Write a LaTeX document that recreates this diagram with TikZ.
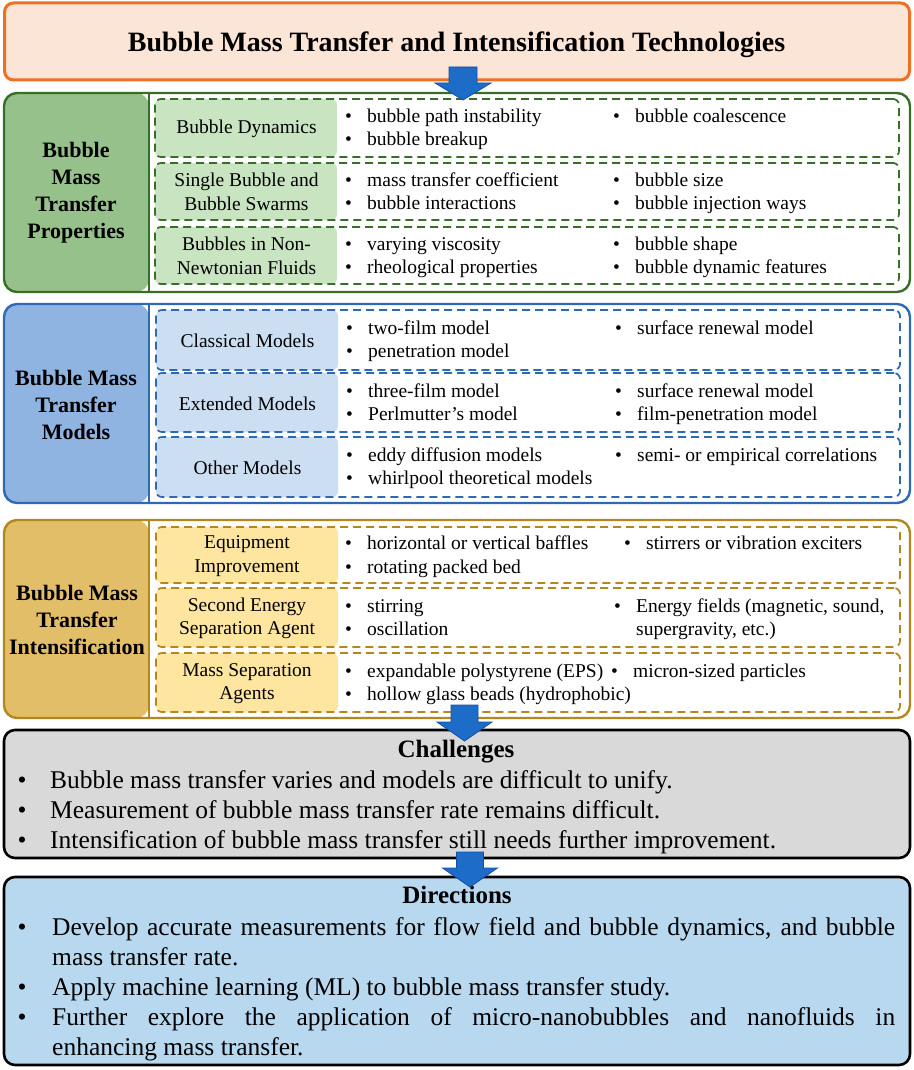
\documentclass[tikz,border=0pt]{standalone}
\usepackage{fontspec}
\setmainfont{Liberation Serif}

\definecolor{titleline}{RGB}{237,112,36}
\definecolor{titlefill}{RGB}{251,229,214}
\definecolor{gline}{RGB}{56,110,40}
\definecolor{gdark}{RGB}{151,193,139}
\definecolor{glight}{RGB}{200,228,192}
\definecolor{bline}{RGB}{46,105,180}
\definecolor{bdark}{RGB}{143,180,226}
\definecolor{blight}{RGB}{204,222,242}
\definecolor{yline}{RGB}{180,135,30}
\definecolor{ydark}{RGB}{226,190,104}
\definecolor{ylight}{RGB}{255,230,160}
\definecolor{chfill}{RGB}{217,217,217}
\definecolor{dirfill}{RGB}{184,216,240}
\definecolor{arrowblue}{RGB}{28,108,200}
\definecolor{arrowline}{RGB}{20,80,160}

\newcommand{\bul}{\makebox[22pt][l]{\textbullet}}

\tikzset{
	titlebox/.style={draw=titleline, fill=titlefill, line width=3pt, rounded corners=9pt, outer sep=0pt},
	titletxt/.style={anchor=base, inner sep=0pt, font=\bfseries\fontsize{28pt}{32pt}\selectfont},
	secbox/.style={draw=#1, fill=white, line width=2.4pt, rounded corners=13pt, minimum width=906pt, outer sep=0pt},
	leftfill/.style={path picture={\fill[#1] (path picture bounding box.north west) rectangle ([xshift=145pt]path picture bounding box.south west);}},
	subbox/.style={draw=#1, dash pattern=on 8pt off 5pt, line width=1.7pt, rounded corners=6pt, minimum width=744pt, outer sep=0pt},
	labelfill/.style={path picture={\fill[#1] (path picture bounding box.north west) rectangle ([xshift=182pt]path picture bounding box.south west);}},
	sectxt/.style={align=center, inner sep=0pt, font=\bfseries\fontsize{22pt}{27pt}\selectfont},
	sublabel/.style={align=center, inner sep=0pt, font=\fontsize{19.5pt}{23.5pt}\selectfont},
	item/.style={anchor=base west, inner sep=0pt, font=\fontsize{19.5pt}{23.5pt}\selectfont},
	endbox/.style={draw=black, line width=2.6pt, rounded corners=11pt, minimum width=906pt, outer sep=0pt},
	heading/.style={anchor=base, inner sep=0pt, font=\bfseries\fontsize{25pt}{30pt}\selectfont},
	bigitem/.style={anchor=base west, inner sep=0pt, font=\fontsize{25.5pt}{30pt}\selectfont},
	blockarrow/.style={fill=arrowblue, draw=arrowline, line width=0.8pt, line join=miter}
}

\begin{document}
\begin{tikzpicture}[x=1pt, y=-1pt]
	
	\useasboundingbox (0,0) rectangle (913,1070);
	
	% Title
	\node[titlebox, minimum width=905pt, minimum height=77pt] (title) at (457,41.5) {};
	\node[titletxt] (titleT) at (456.5,51.5) {Bubble Mass Transfer and Intensification Technologies};
	
	% Bubble mass transfer properties
	\node[secbox=gline, leftfill=gdark, minimum height=199pt] (props) at (457,192.5) {};
	\draw[gline, line width=1.2pt] ([xshift=145pt]props.north west) -- ([xshift=145pt]props.south west);
	\node[sectxt] (propsT) at (76,193) {Bubble\\Mass\\Transfer\\Properties};
	
	\node[subbox=gline, labelfill=glight, minimum height=58pt] (dyn) at (527,128) {};
	\node[sublabel] (dynL) at (246.5,129) {Bubble Dynamics};
	\node[item] (dyn1) at (345,123) {\bul bubble path instability};
	\node[item] (dyn2) at (613,123) {\bul bubble coalescence};
	\node[item] (dyn3) at (345,146) {\bul bubble breakup};
	
	\node[subbox=gline, labelfill=glight, minimum height=57pt] (swarm) at (527,191.5) {};
	\node[sublabel] (swarmL) at (246.5,192) {Single Bubble and\\Bubble Swarms};
	\node[item] (swarm1) at (345,186) {\bul mass transfer coefficient};
	\node[item] (swarm2) at (613,186) {\bul bubble size};
	\node[item] (swarm3) at (345,209) {\bul bubble interactions};
	\node[item] (swarm4) at (613,209) {\bul bubble injection ways};
	
	\node[subbox=gline, labelfill=glight, minimum height=57pt] (fluid) at (527,255.5) {};
	\node[sublabel] (fluidL) at (246.5,256) {Bubbles in Non-\\Newtonian Fluids};
	\node[item] (fluid1) at (345,250) {\bul varying viscosity};
	\node[item] (fluid2) at (613,250) {\bul bubble shape};
	\node[item] (fluid3) at (345,273) {\bul rheological properties};
	\node[item] (fluid4) at (613,273) {\bul bubble dynamic features};
	
	% Bubble mass transfer models
	\node[secbox=bline, leftfill=bdark, minimum height=199pt] (models) at (457,403.5) {};
	\draw[bline, line width=1.2pt] ([xshift=145pt]models.north west) -- ([xshift=145pt]models.south west);
	\node[sectxt] (modelsT) at (76,405) {Bubble Mass\\Transfer\\Models};
	
	\node[subbox=bline, labelfill=blight, minimum height=60pt] (classic) at (528,340) {};
	\node[sublabel] (classicL) at (247.5,341) {Classical Models};
	\node[item] (classic1) at (346,334) {\bul two-film model};
	\node[item] (classic2) at (615,334) {\bul surface renewal model};
	\node[item] (classic3) at (346,357) {\bul penetration model};
	
	\node[subbox=bline, labelfill=blight, minimum height=59pt] (extend) at (528,402.5) {};
	\node[sublabel] (extendL) at (247.5,403.5) {Extended Models};
	\node[item] (extend1) at (346,397) {\bul three-film model};
	\node[item] (extend2) at (615,397) {\bul surface renewal model};
	\node[item] (extend3) at (346,420) {\bul Perlmutter’s model};
	\node[item] (extend4) at (615,420) {\bul film-penetration model};
	
	\node[subbox=bline, labelfill=blight, minimum height=60pt] (other) at (528,467) {};
	\node[sublabel] (otherL) at (247.5,468) {Other Models};
	\node[item] (other1) at (346,461) {\bul eddy diffusion models};
	\node[item] (other2) at (615,461) {\bul semi- or empirical correlations};
	\node[item] (other3) at (346,484) {\bul whirlpool theoretical models};
	
	% Bubble mass transfer intensification
	\node[secbox=yline, leftfill=ydark, minimum height=198pt] (intens) at (457,619) {};
	\draw[yline, line width=1.2pt] ([xshift=145pt]intens.north west) -- ([xshift=145pt]intens.south west);
	\node[sectxt] (intensT) at (77,620) {Bubble Mass\\Transfer\\Intensification};
	
	\node[subbox=yline, labelfill=ylight, minimum height=56pt] (equip) at (528,555) {};
	\node[sublabel] (equipL) at (247,556) {Equipment\\Improvement};
	\node[item] (equip1) at (345,549) {\bul horizontal or vertical baffles};
	\node[item] (equip2) at (624,549) {\bul stirrers or vibration exciters};
	\node[item] (equip3) at (345,573) {\bul rotating packed bed};
	
	\node[subbox=yline, labelfill=ylight, minimum height=59pt] (energy) at (528,617.5) {};
	\node[sublabel] (energyL) at (247,618.5) {Second Energy\\Separation Agent};
	\node[item] (energy1) at (345,612) {\bul stirring};
	\node[item] (energy2) at (614,612) {\bul Energy fields (magnetic, sound,};
	\node[item] (energy3) at (345,635) {\bul oscillation};
	\node[item] (energy4) at (636,635) {supergravity, etc.)};
	
	\node[subbox=yline, labelfill=ylight, minimum height=59pt] (agent) at (528,682.5) {};
	\node[sublabel] (agentL) at (247,683.5) {Mass Separation\\Agents};
	\node[item] (agent1) at (345,677) {\bul expandable polystyrene (EPS)};
	\node[item] (agent2) at (611,677) {\bul micron-sized particles};
	\node[item] (agent3) at (345,700) {\bul hollow glass beads (hydrophobic)};
	
	% Challenges
	\node[endbox, fill=chfill, minimum height=128pt] (chall) at (457,794) {};
	\node[heading] (challT) at (456,757) {Challenges};
	\node[bigitem] (chb1) at (17.5,788) {\textbullet};
	\node[bigitem] (ch1) at (50,788) {Bubble mass transfer varies and models are difficult to unify.};
	\node[bigitem] (chb2) at (17.5,818) {\textbullet};
	\node[bigitem] (ch2) at (50,818) {Measurement of bubble mass transfer rate remains difficult.};
	\node[bigitem] (chb3) at (17.5,848) {\textbullet};
	\node[bigitem] (ch3) at (50,848) {Intensification of bubble mass transfer still needs further improvement.};
	
	% Directions
	\node[endbox, fill=dirfill, minimum height=188pt] (direc) at (457,971) {};
	\node[heading] (direcT) at (457,903) {Directions};
	\node[bigitem] (dib1) at (17.5,935) {\textbullet};
	\node[bigitem, text width=843pt, align=justify] (di1) at (52,935) {Develop accurate measurements for flow field and bubble dynamics, and bubble\linebreak mass transfer rate.};
	\node[bigitem] (dib2) at (17.5,995) {\textbullet};
	\node[bigitem] (di2) at (52,995) {Apply machine learning (ML) to bubble mass transfer study.};
	\node[bigitem] (dib3) at (17.5,1025) {\textbullet};
	\node[bigitem, text width=843pt, align=justify] (di3) at (52,1025) {Further explore the application of micro-nanobubbles and nanofluids in\linebreak enhancing mass transfer.};
	
	% Arrows between the blocks
	\coordinate (tipA) at (463,100);
	\coordinate (tipB) at (464.5,741);
	\coordinate (tipC) at (470,887);
	\filldraw[blockarrow] (tipA) -- ++(-28,-17) -- ++(14,0) -- ++(0,-16) -- ++(28,0) -- ++(0,16) -- ++(14,0) -- cycle;
	\filldraw[blockarrow] (tipB) -- ++(-27.5,-19) -- ++(14,0) -- ++(0,-17) -- ++(27,0) -- ++(0,17) -- ++(14,0) -- cycle;
	\filldraw[blockarrow] (tipC) -- ++(-27.5,-19) -- ++(14,0) -- ++(0,-16) -- ++(27,0) -- ++(0,16) -- ++(14,0) -- cycle;
	
\end{tikzpicture}
\end{document}
